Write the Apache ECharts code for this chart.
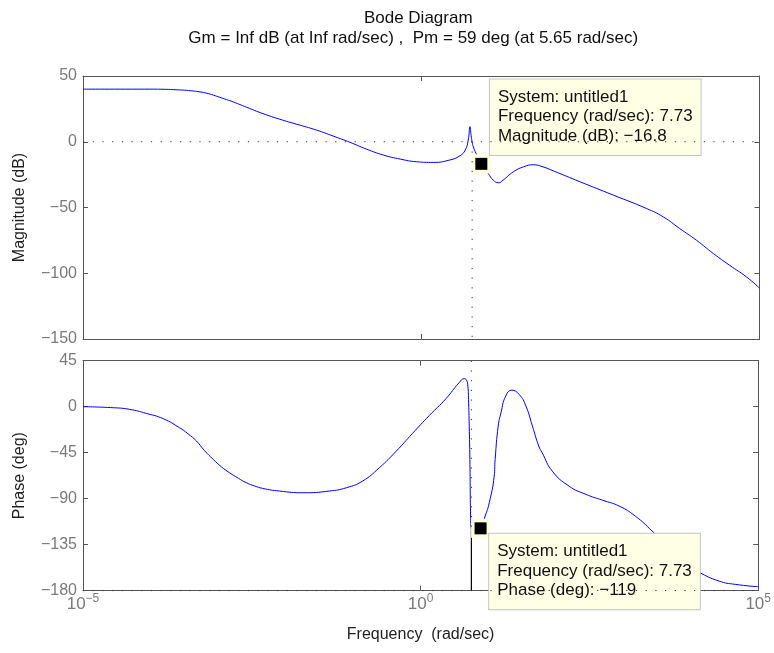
<!DOCTYPE html>
<html>
<head>
<meta charset="utf-8">
<script src="https://cdn.jsdelivr.net/npm/echarts@6/dist/echarts.min.js"></script>
<style>
  html, body { margin: 0; padding: 0; background: #fff; }
  #chart { width: 774px; height: 653px; }
</style>
</head>
<body>
<div id="chart"></div>
<script>
// Open-loop frequency response of "untitled1", sampled in rad/sec.
const magFreq = [1e-5, 1e-4, 1.58e-4, 2.69e-4, 3.39e-4, 4.27e-4, 5.37e-4, 6.76e-4, 8.51e-4, 1.05e-3,
  1.32e-3, 1.66e-3, 2.63e-3, 4.57e-3, 8.13e-3,
  0.0145, 0.0282, 0.0501, 0.0891, 0.155, 0.275, 0.49, 0.851, 1.51, 2.63, 3.72, 4.47, 4.95, 5.25,
  5.45, 5.65, 5.89, 6.76, 7.73, 9.77, 11.6, 13.8, 16.2, 22.9, 32.4, 45.3, 63.1, 89.1, 224, 692,
  2140, 3800, 6610, 11700, 20900, 36300, 64600, 100000];
const magDb = [40, 40, 39.9, 39.4, 39.1, 38.6, 37.9, 36.9, 35.4, 33.8,
  32.1, 30.3, 26.2, 21.4, 17.1,
  13.3, 8.9, 4.3, -0.5, -5.6, -10.1, -13.2, -15.2, -15.7, -13.9, -10.7, -6.3, 1.3, 11.5,
  5, 0, -4, -11, -16.8, -24.1, -29.2, -31.2, -29.2, -22.9, -19.1, -17.5, -19.1, -22.1, -30.5, -40.6,
  -50.8, -57.2, -66.0, -74.9, -85.1, -94.0, -102.9, -111.3];

const phaseFreq = [1e-5, 2.82e-5, 4.9e-5, 8.71e-5, 1.55e-4, 2.69e-4, 3.59e-4, 4.79e-4, 6.31e-4, 8.51e-4,
  1.12e-3, 1.48e-3, 2e-3, 2.63e-3, 3.47e-3,
  4.57e-3, 8.13e-3, 0.0182, 0.0447, 0.0794, 0.138, 0.245, 0.437, 0.759, 1.35, 2.37, 3.72, 4.43,
  4.79, 5.01, 5.13, 5.25, 5.37, 5.5, 5.65, 6.31, 7.73, 9.04, 10.4, 12.3, 12.7, 14.1, 15.5, 18.2,
  22.4, 28.8, 36.3, 45.3, 56.2, 63.1, 89.1, 158, 282, 490, 871, 1510, 2690, 3980, 6310, 10000,
  13200, 26300, 45700, 100000];
const phaseDeg = [0, -1.0, -2.6, -6.6, -11.8, -20.6, -26.5, -33.6, -43, -51.6,
  -58.8, -64.6, -70, -74.4, -77.5,
  -79.9, -82.5, -84.2, -82.5, -79.3, -72.8, -59.7, -43.4, -26.1, -8.5, 7.8, 23.5, 27.4,
  26.0, 20.2, 7.1, -19, -51.6, -107, -121, -124, -119, -107, -93.9, -67.9, -51.6, -19, -5.9, 10.4,
  16.2, 12.0, 0.6, -19, -38.5, -45, -63, -77.7, -85.8, -91.4, -97.2, -107, -121.7, -133, -145.5, -156,
  -161.8, -170.6, -173.8, -176.1];

// Stability margins and the two data tips
const systemName = 'untitled1';
const gainMarginText = 'Inf';
const gainCrossText = 'Inf';
const phaseMargin = 59;          // deg
const crossoverFreq = 5.65;      // rad/sec
const tipFreq = 7.73;            // rad/sec
const tipMag = -16.8;            // dB
const tipPhase = -119;           // deg

// Axis ranges and tick steps
const freqRange = [1e-5, 1e5];
const decadeStep = 5;
const magRange = [-150, 50];
const magStep = 50;
const phaseRange = [-180, 45];
const phaseStep = 45;

const FONT = '"Liberation Sans", Arial, Helvetica, sans-serif';
const AXIS = '#555555';
const TICKTXT = '#7a7a7a';
const BLUE = '#0000ff';

const G = { left: 83, width: 676.5 };
const grid0 = { left: G.left, width: G.width, top: 76, height: 263 };
const grid1 = { left: G.left, width: G.width, top: 360.7, height: 230 };

const minus = s => String(s).replace('-', '\u2212');

function freqLabel(v) {
  const e = Math.round(Math.log10(v));
  return '{b|10}{s|' + minus(e) + '}';
}

function xAxisBase(gridIndex, position, showLabel) {
  return {
    type: 'log', logBase: 10, gridIndex, position,
    min: freqRange[0], max: freqRange[1], interval: decadeStep,
    axisLine: { show: true, onZero: false, lineStyle: { color: AXIS, width: 1 } },
    axisTick: { show: true, inside: true, length: 5, lineStyle: { color: AXIS } },
    minorTick: { show: false },
    splitLine: { show: false },
    axisLabel: showLabel ? {
      show: true, margin: 2, color: TICKTXT, fontFamily: FONT,
      formatter: freqLabel,
      rich: {
        b: { fontSize: 17, lineHeight: 24, color: TICKTXT, fontFamily: FONT },
        s: { fontSize: 12, verticalAlign: 'top', color: TICKTXT, fontFamily: FONT }
      }
    } : { show: false }
  };
}

function yAxisBase(gridIndex, position, range, step, showLabel, name) {
  return {
    type: 'value', gridIndex, position,
    min: range[0], max: range[1], interval: step,
    axisLine: { show: true, onZero: false, lineStyle: { color: AXIS, width: 1 } },
    axisTick: { show: true, inside: true, length: 5, lineStyle: { color: AXIS } },
    splitLine: { show: false },
    axisLabel: showLabel ? {
      show: true, margin: 6, color: TICKTXT, fontSize: 16, fontFamily: FONT,
      formatter: v => minus(v)
    } : { show: false },
    name: name || '',
    nameLocation: 'middle', nameRotate: 90, nameGap: 55,
    nameTextStyle: { color: '#222', fontSize: 16, fontFamily: FONT }
  };
}

const pair = (xs, ys) => xs.map((x, i) => [x, ys[i]]);
const dotted = { color: '#333', width: 1, type: [1.2, 8.5] };

function dataTip(xAxisIndex, yAxisIndex, value, lines, offset) {
  return [
    {
      type: 'scatter', xAxisIndex, yAxisIndex, z: 4, silent: true,
      symbol: 'rect', symbolSize: 19,
      itemStyle: { color: '#ffffe0', opacity: 1 },
      data: [value]
    },
    {
      type: 'scatter', xAxisIndex, yAxisIndex, z: 5, silent: true,
      symbol: 'rect', symbolSize: 12,
      itemStyle: { color: '#000', opacity: 1 },
      data: [value],
      label: {
        show: true, position: offset, align: 'left', verticalAlign: 'top',
        formatter: lines.join('\n'),
        fontSize: 17, lineHeight: 19.5, color: '#111', fontFamily: FONT,
        backgroundColor: '#ffffe6', borderColor: '#c4c4c4', borderWidth: 1,
        padding: [8, 8, 9, 8]
      }
    }
  ];
}

const curve = (xi, yi, f, v) => ({
  type: 'line', xAxisIndex: xi, yAxisIndex: yi, z: 2, silent: true,
  showSymbol: false, smooth: 0.5, data: pair(f, v),
  lineStyle: { color: BLUE, width: 1 }
});

const titleCenter = G.left + G.width / 2;

const option = {
  animation: false,
  backgroundColor: '#fff',
  title: [
    {
      text: 'Bode Diagram', left: titleCenter - 8, top: 5, textAlign: 'center',
      textStyle: { fontSize: 17, fontWeight: 'normal', color: '#111', fontFamily: FONT }
    },
    {
      text: 'Gm = ' + gainMarginText + ' dB (at ' + gainCrossText + ' rad/sec) ,  Pm = ' + phaseMargin +
        ' deg (at ' + crossoverFreq + ' rad/sec)',
      left: titleCenter - 13, top: 25, textAlign: 'center',
      textStyle: { fontSize: 17, fontWeight: 'normal', color: '#111', fontFamily: FONT }
    }
  ],
  grid: [
    Object.assign({ containLabel: false }, grid0),
    Object.assign({ containLabel: false }, grid1)
  ],
  xAxis: [
    xAxisBase(0, 'bottom', false),
    xAxisBase(0, 'top', false),
    Object.assign(xAxisBase(1, 'bottom', true), {
      name: 'Frequency  (rad/sec)', nameLocation: 'middle', nameGap: 36,
      nameTextStyle: { color: '#222', fontSize: 16, fontFamily: FONT }
    }),
    xAxisBase(1, 'top', false)
  ],
  yAxis: [
    yAxisBase(0, 'left', magRange, magStep, true, 'Magnitude (dB)'),
    yAxisBase(0, 'right', magRange, magStep, false),
    yAxisBase(1, 'left', phaseRange, phaseStep, true, 'Phase (deg)'),
    yAxisBase(1, 'right', phaseRange, phaseStep, false)
  ],
  series: [
    // magnitude response
    curve(0, 0, magFreq, magDb),
    // 0 dB reference
    {
      type: 'line', xAxisIndex: 0, yAxisIndex: 0, z: 6, silent: true, showSymbol: false,
      data: [[freqRange[0], 0], [freqRange[1], 0]], lineStyle: dotted
    },
    // gain crossover marker line
    {
      type: 'line', xAxisIndex: 0, yAxisIndex: 0, z: 6, silent: true, showSymbol: false,
      data: [[crossoverFreq, 0], [crossoverFreq, magRange[0]]], lineStyle: dotted
    },
    ...dataTip(0, 0, [tipFreq, tipMag], [
      'System: ' + systemName,
      'Frequency (rad/sec): ' + tipFreq,
      'Magnitude (dB): ' + minus(tipMag)
    ], [14.6, -78.4]),

    // phase response
    curve(2, 2, phaseFreq, phaseDeg),
    // -180 deg reference
    {
      type: 'line', xAxisIndex: 2, yAxisIndex: 2, z: 6, silent: true, showSymbol: false,
      data: [[freqRange[0], -180], [freqRange[1], -180]],
      lineStyle: Object.assign({}, dotted, { width: 1.2 })
    },
    // crossover: dotted down to the phase, solid margin bar to -180
    {
      type: 'line', xAxisIndex: 2, yAxisIndex: 2, z: 6, silent: true, showSymbol: false,
      data: [[crossoverFreq, phaseRange[1]], [crossoverFreq, phaseMargin - 180]], lineStyle: dotted
    },
    {
      type: 'line', xAxisIndex: 2, yAxisIndex: 2, z: 3, silent: true, showSymbol: false,
      data: [[crossoverFreq, phaseMargin - 180], [crossoverFreq, -180]],
      lineStyle: { color: '#000', width: 1.2 }
    },
    ...dataTip(2, 2, [tipFreq, tipPhase], [
      'System: ' + systemName,
      'Frequency (rad/sec): ' + tipFreq,
      'Phase (deg): ' + minus(tipPhase)
    ], [14.6, 11.4])
  ]
};

const chart = echarts.init(document.getElementById('chart'), null, { renderer: 'canvas' });
chart.setOption(option);
</script>
</body>
</html>
